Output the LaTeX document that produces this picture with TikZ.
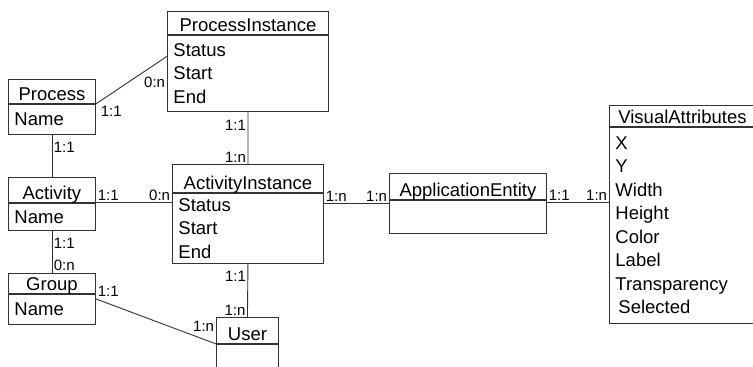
\documentclass[tikz,border=0pt]{standalone}
\usepackage{fontspec}
\setmainfont{Liberation Sans}
\usetikzlibrary{positioning}
\newcommand{\entfont}{\fontsize{18.5bp}{23.5bp}\selectfont}
\newcommand{\cardfont}{\fontsize{15bp}{15bp}\selectfont}

\begin{document}
\begin{tikzpicture}[x=1bp,y=-1bp,line width=0.9bp,draw=black!80,
  ent/.style 2 args={draw,anchor=north west,inner sep=0pt,minimum width=#1,
    text height=#2,text depth=2.5bp,font=\entfont},
  attrs/.style={draw,text width=#1,inner xsep=6bp,inner ysep=0pt,
    align=left,font=\entfont},
  card/.style={inner sep=1.5bp,font=\cardfont}]
  \clip (0,0) rectangle (753,366);
  % entities
  \node[ent={87bp}{21.5bp}] (pr) at (8,79) {Process};
  \node[attrs=75bp,minimum height=30bp,below=0pt of pr] (prb) {Name};
  \node[ent={161bp}{20.5bp}] (pi) at (167,11) {ProcessInstance};
  \node[attrs=149bp,minimum height=76bp,below=0pt of pi] (pib)
    {Status\\Start\\End};
  \node[ent={87bp}{22.5bp}] (ac) at (8,177) {Activity};
  \node[attrs=75bp,minimum height=27bp,below=0pt of ac] (acb) {Name};
  \node[ent={151bp}{25.5bp}] (ai) at (172,164) {ActivityInstance};
  \node[attrs=139bp,minimum height=70bp,below=0pt of ai] (aib)
    {Status\\Start\\End};
  \node[ent={87bp}{17.5bp}] (gr) at (8,273) {Group};
  \node[attrs=75bp,minimum height=30bp,below=0pt of gr] (grb) {Name};
  \node[ent={62bp}{23.5bp}] (us) at (216,317) {User};
  \node[attrs=50bp,minimum height=30bp,below=0pt of us] (usb) {};
  \node[ent={157bp}{23.5bp}] (ae) at (389,173) {ApplicationEntity};
  \node[attrs=145bp,minimum height=33bp,below=0pt of ae] (aeb) {};
  \node[ent={146bp}{18.5bp}] (va) at (609,105) {VisualAttributes};
  \node[attrs=134bp,minimum height=196bp,below=0pt of va] (vab)
    {X\\Y\\Width\\Height\\Color\\Label\\Transparency\\\hspace{3bp}Selected};
  % relations
  \draw (pr.south east) -- node[card,at start,anchor=north west,xshift=3bp]{1:1}
    node[card,at end,anchor=north east,yshift=-19bp]{0:n} ([yshift=17bp]pib.west);
  \draw (pib.south) -- node[card,at start,anchor=north east,yshift=-6bp]{1:1}
    node[card,at end,anchor=south east]{1:n} (ai.north);
  \draw (prb.south) -- node[card,at start,anchor=north west,yshift=-5bp]{1:1} (ac.north);
  \draw (ac.south east) -- node[card,at start,anchor=south west]{1:1}
    node[card,at end,anchor=south east]{0:n} (ac.south east -| aib.west);
  \draw (acb.south) -- node[card,at start,anchor=north west,yshift=-5bp]{1:1}
    node[card,at end,anchor=south west]{0:n} (gr.north);
  \coordinate (grr) at ([yshift=-5bp]gr.south east);
  \draw (grr) -- node[card,at start,anchor=south west]{1:1}
    node[card,at end,anchor=south east,yshift=10bp]{1:n} (us.south west);
  \draw (aib.south) -- node[card,at start,anchor=north east,yshift=-5bp]{1:1}
    node[card,at end,anchor=south east]{1:n} (us.north);
  \coordinate (aein) at ([yshift=-4bp]ae.south west);
  \draw (aein -| aib.east) -- node[card,at start,anchor=south west]{1:n}
    node[card,at end,anchor=south east]{1:n} (aein);
  \coordinate (aeout) at ([yshift=-3bp]ae.south east);
  \draw (aeout) -- node[card,at start,anchor=south west]{1:1}
    node[card,at end,anchor=south east]{1:n} (aeout -| vab.west);
\end{tikzpicture}
\end{document}
